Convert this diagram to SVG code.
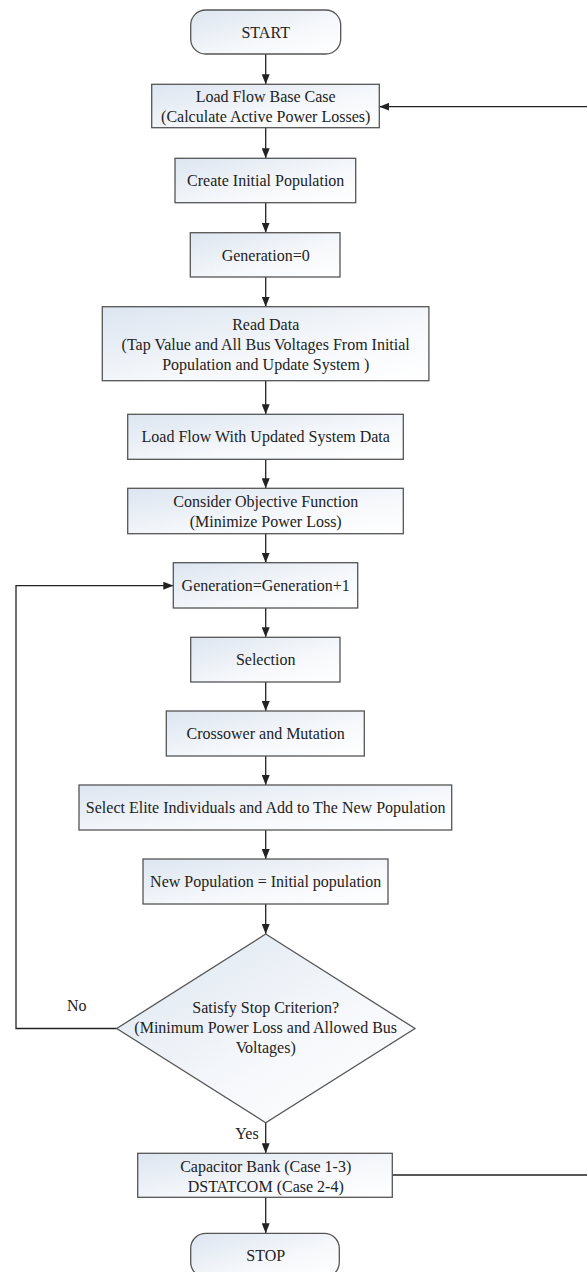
<svg xmlns="http://www.w3.org/2000/svg" width="587" height="1272" viewBox="0 0 587 1272">
<defs>
<linearGradient id="g" x1="0" y1="0" x2="1" y2="1">
<stop offset="0" stop-color="#dce5f0"/>
<stop offset="0.6" stop-color="#f6f8fb"/>
<stop offset="1" stop-color="#ffffff"/>
</linearGradient>
<marker id="ah" markerUnits="userSpaceOnUse" markerWidth="10" markerHeight="8" refX="10" refY="4" orient="auto">
<path d="M0,0 L10,4 L0,8 z" fill="#222"/>
</marker>
<style>
.n{fill:url(#g);stroke:#555;stroke-width:1.3}
.t{font-family:'Liberation Serif','Times New Roman','DejaVu Serif',serif;font-size:16px;fill:#222;text-anchor:middle}
.c{fill:none;stroke:#222;stroke-width:1.3;marker-end:url(#ah)}
</style>
</defs>
<rect width="587" height="1272" fill="#fff"/>
<g id="connectors">
<line class="c" x1="265.7" y1="54" x2="265.7" y2="84.3"/>
<line class="c" x1="265.7" y1="127.7" x2="265.7" y2="158.3"/>
<line class="c" x1="265.7" y1="202.7" x2="265.7" y2="232.7"/>
<line class="c" x1="265.7" y1="277" x2="265.7" y2="306.7"/>
<line class="c" x1="265.7" y1="380.7" x2="265.7" y2="414.3"/>
<line class="c" x1="265.7" y1="459.3" x2="265.7" y2="488.3"/>
<line class="c" x1="265.7" y1="533.7" x2="265.7" y2="562.7"/>
<line class="c" x1="265.7" y1="608" x2="265.7" y2="637.3"/>
<line class="c" x1="265.7" y1="682" x2="265.7" y2="711"/>
<line class="c" x1="265.7" y1="756" x2="265.7" y2="785"/>
<line class="c" x1="265.7" y1="830" x2="265.7" y2="859"/>
<line class="c" x1="265.7" y1="904" x2="265.7" y2="934"/>
<line class="c" x1="265.7" y1="1122.7" x2="265.7" y2="1153.3"/>
<line class="c" x1="265.7" y1="1197.3" x2="265.7" y2="1233.3"/>
<path class="c" d="M116.7,1028.5 H16 V585.7 H173.3"/>
<path class="c" d="M392.3,1175 H592 V106.7 H379.3"/>
<text class="t" x="76.7" y="1011" font-family="Liberation Serif, serif">No</text>
<text class="t" x="247" y="1139" font-family="Liberation Serif, serif">Yes</text>
</g>
<g id="start">
<rect class="n" x="190.7" y="10" width="150" height="44" rx="15"/>
<text class="t" x="265.7" y="37.5">START</text>
</g>
<g id="loadflow">
<rect class="n" x="151.7" y="84.3" width="227.6" height="43.4"/>
<text class="t" x="265.7" y="101.5">Load Flow Base Case</text>
<text class="t" x="265.7" y="121.5">(Calculate Active Power Losses)</text>
</g>
<g id="create">
<rect class="n" x="175" y="158.3" width="180.7" height="44.4"/>
<text class="t" x="265.7" y="186">Create Initial Population</text>
</g>
<g id="gen0">
<rect class="n" x="190.3" y="232.7" width="149.7" height="44.3"/>
<text class="t" x="265.7" y="260.5">Generation=0</text>
</g>
<g id="readdata">
<rect class="n" x="102.3" y="306.7" width="326.6" height="74"/>
<text class="t" x="265.7" y="329.5">Read Data</text>
<text class="t" x="265.7" y="349.5">(Tap Value and All Bus Voltages From Initial</text>
<text class="t" x="265.7" y="369.5">Population and Update System )</text>
</g>
<g id="loadflowupdated">
<rect class="n" x="127.7" y="414.3" width="275.6" height="45"/>
<text class="t" x="265.7" y="442.3">Load Flow With Updated System Data</text>
</g>
<g id="objective">
<rect class="n" x="127.7" y="488.3" width="275.6" height="45.4"/>
<text class="t" x="265.7" y="507">Consider Objective Function</text>
<text class="t" x="265.7" y="527">(Minimize Power Loss)</text>
</g>
<g id="genplus">
<rect class="n" x="173.3" y="562.7" width="184.4" height="45.3"/>
<text class="t" x="265.7" y="591">Generation=Generation+1</text>
</g>
<g id="selection">
<rect class="n" x="190.7" y="637.3" width="149.3" height="44.7"/>
<text class="t" x="265.7" y="665">Selection</text>
</g>
<g id="crossover">
<rect class="n" x="166.3" y="711" width="198" height="45"/>
<text class="t" x="265.7" y="739">Crossower and Mutation</text>
</g>
<g id="elite">
<rect class="n" x="79" y="785" width="372.7" height="45"/>
<text class="t" x="265.7" y="813">Select Elite Individuals and Add to The New Population</text>
</g>
<g id="newpop">
<rect class="n" x="143" y="859" width="245" height="45"/>
<text class="t" x="265.7" y="887">New Population = Initial population</text>
</g>
<g id="decision">
<polygon class="n" points="265.7,934 415,1028.5 265.7,1122.7 116.7,1028.5"/>
<text class="t" x="265.7" y="1013">Satisfy Stop Criterion?</text>
<text class="t" x="265.7" y="1033">(Minimum Power Loss and Allowed Bus</text>
<text class="t" x="265.7" y="1053">Voltages)</text>
</g>
<g id="device">
<rect class="n" x="137.7" y="1153.3" width="254.6" height="44"/>
<text class="t" x="265.7" y="1171.5">Capacitor Bank (Case 1-3)</text>
<text class="t" x="265.7" y="1191.5">DSTATCOM (Case 2-4)</text>
</g>
<g id="stop">
<rect class="n" x="190.7" y="1233.3" width="148.6" height="44" rx="15"/>
<text class="t" x="265.7" y="1260.5">STOP</text>
</g>
</svg>
